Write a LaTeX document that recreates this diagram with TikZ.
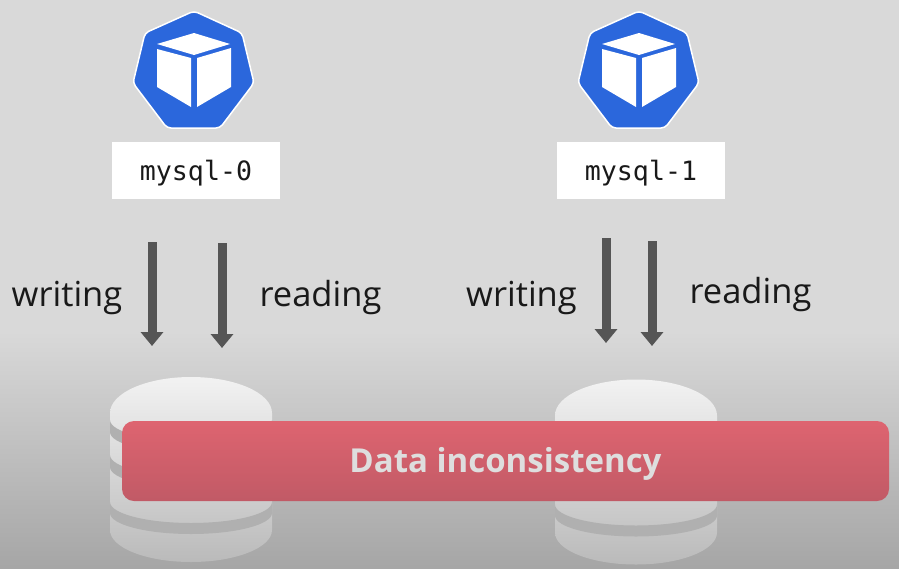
\documentclass[tikz,border=0pt]{standalone}
\usepackage{fontspec}
\setmainfont{Open Sans}
\setmonofont{DejaVu Sans Mono}
\usetikzlibrary{arrows.meta}
\definecolor{podblue}{HTML}{2B67DC}
\definecolor{arrowgray}{HTML}{555555}
\definecolor{bandgray}{HTML}{B0B0B0}
\definecolor{issuetop}{HTML}{DE6470}
\definecolor{issuebot}{HTML}{C15A66}
\tikzset{
podname/.style={draw=none, fill=white, minimum width=168pt, minimum height=57pt, inner sep=0pt, text height=24pt, text depth=5pt, font=\ttfamily\fontsize{26.6}{30}\selectfont, text=black!90},
rwlabel/.style={inner sep=0pt, font=\fontsize{34.5}{40}\selectfont, text=black!90},
rwarrow/.style={line width=9pt, color=arrowgray, -{Triangle[width=22pt,length=14pt]}},
podicon/.pic={
\draw [fill=podblue, draw=white, line width=1.5pt, rounded corners=4pt] (0pt,61pt) -- (48pt,39pt) -- (60pt,-11pt) -- (26pt,-56pt) -- (-27pt,-56pt) -- (-61pt,-11pt) -- (-49pt,39pt) -- cycle;
\fill [white] (0pt,39pt) -- (36pt,28pt) -- (0pt,17pt) -- (-37pt,28pt) -- cycle;
\fill [white] (-37pt,23pt) -- (-3pt,14pt) -- (-3pt,-35pt) -- (-37pt,-15pt) -- cycle;
\fill [white] (3pt,14pt) -- (37pt,24pt) -- (37pt,-15pt) -- (3pt,-35pt) -- cycle;
},
dbstack/.pic={
\shade [top color=black!5, bottom color=black!27] (-81pt,0pt) arc [start angle=180, end angle=0, x radius=81pt, y radius=36pt] -- (81pt,-117pt) arc [start angle=0, end angle=-180, x radius=81pt, y radius=32pt] -- cycle;
\foreach \ytop/\ybot in {-7/-19, -42/-54, -89/-100}
\fill [bandgray] (-81pt,\ytop pt) arc [start angle=180, end angle=360, x radius=81pt, y radius=21pt] -- (81pt,\ybot pt) arc [start angle=360, end angle=180, x radius=81pt, y radius=21pt] -- cycle;
},
}
\begin{document}
\begin{tikzpicture}
\useasboundingbox (0pt,0pt) rectangle (899pt,-568pt);
% background
\fill [color=black!15] (0pt,0pt) rectangle (899pt,-332pt);
\shade [top color=black!15, bottom color=black!35] (0pt,-332pt) rectangle (899pt,-568pt);
% pods
\pic at (194pt, -72pt) {podicon};
\pic at (639pt, -72pt) {podicon};
\node (name0) [podname] at (196pt, -170.5pt) {mysql-0};
\node (name1) [podname] at (641pt, -170.5pt) {mysql-1};
% arrows
\coordinate (w0a) at (152pt, -242pt);
\coordinate (w0b) at (152pt, -346pt);
\coordinate (r0a) at (222pt, -243pt);
\coordinate (r0b) at (222pt, -348pt);
\coordinate (w1a) at (606pt, -238pt);
\coordinate (w1b) at (606pt, -343pt);
\coordinate (r1a) at (652pt, -241pt);
\coordinate (r1b) at (652pt, -346pt);
\draw [rwarrow] (w0a) to (w0b);
\draw [rwarrow] (r0a) to (r0b);
\draw [rwarrow] (w1a) to (w1b);
\draw [rwarrow] (r1a) to (r1b);
\node (wlabel0) [rwlabel] at (67pt, -298pt) {writing};
\node (rlabel0) [rwlabel] at (320.5pt, -298pt) {reading};
\node (wlabel1) [rwlabel] at (521.5pt, -298pt) {writing};
\node (rlabel1) [rwlabel] at (750.5pt, -295pt) {reading};
% storage
\pic at (191pt, -413pt) {dbstack};
\pic at (636pt, -415.5pt) {dbstack};
\node (issue) [rounded corners=12pt, minimum width=767pt, minimum height=80pt, inner sep=0pt, text height=28pt, text depth=4.6pt, top color=issuetop, bottom color=issuebot, text=black!13, font=\fontsize{33}{38}\selectfont\bfseries] at (505.5pt, -461pt) {Data inconsistency};
\end{tikzpicture}
\end{document}
